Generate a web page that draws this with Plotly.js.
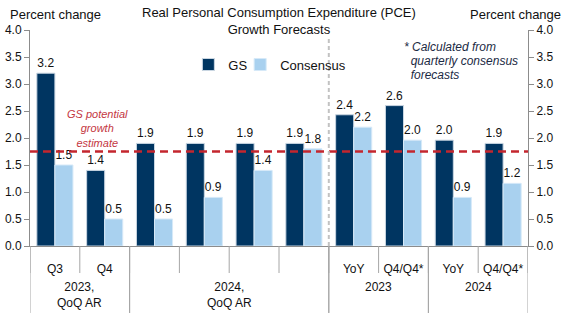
<!DOCTYPE html>
<html>
<head>
<meta charset="utf-8">
<script src="https://cdn.plot.ly/plotly-3.0.1.min.js"></script>
<style>html,body{margin:0;padding:0;background:#fff;}#chart{width:569px;height:327px;}</style>
</head>
<body>
<div id="chart"></div>
<script>
// ---- data ----
var categoryIds = ["2023Q3","2023Q4","2024Q1","2024Q2","2024Q3","2024Q4","2023YoY","2023Q4Q4","2024YoY","2024Q4Q4"];
var tickLabels = ["Q3","Q4","","","","","YoY","Q4/Q4*","YoY","Q4/Q4*"];
var gsValues = [3.2, 1.4, 1.9, 1.9, 1.9, 1.9, 2.43, 2.6, 1.96, 1.9];
var consensusValues = [1.5, 0.5, 0.5, 0.9, 1.4, 1.8, 2.2, 1.96, 0.9, 1.16];
var groupLabels = ["2023,<br>QoQ AR", "2024,<br>QoQ AR", "2023", "2024"];
var groupStarts = [0, 2, 6, 8];
var groupEnds = [1, 5, 7, 9];
var potentialGrowth = 1.75;
var yTicks = [0, 0.5, 1, 1.5, 2, 2.5, 3, 3.5, 4];
var noteLines = ["* Calculated from", "  quarterly consensus", "  forecasts"];

var FONT = "Liberation Sans, Arial, sans-serif";
var navy = "#003561";
var light = "#a9d1ef";
var axisGray = "#8c8c8c";

var traces = [
  {type: "bar", name: "GS", x: categoryIds, y: gsValues, legend: "legend",
   marker: {color: navy, line: {color: "#c9d6e2", width: 1}},
   texttemplate: "%{y:.1f}", textposition: "outside", cliponaxis: false,
   textfont: {family: FONT, size: 12, color: "#111"}, hoverinfo: "skip"},
  {type: "bar", name: "Consensus", x: categoryIds, y: consensusValues, legend: "legend2",
   marker: {color: light, line: {color: "#d6e9f8", width: 1}},
   texttemplate: "%{y:.1f}", textposition: "outside", cliponaxis: false,
   textfont: {family: FONT, size: 12, color: "#111"}, hoverinfo: "skip"}
];

var shapes = [];
for (var i = 0; i <= categoryIds.length; i++) {
  shapes.push({type: "line", xref: "x", yref: "paper", x0: i - 0.5, x1: i - 0.5,
    y0: 0, y1: -0.125, line: {color: "#a6a6a6", width: 1}});
}
for (var g = 0; g < groupStarts.length; g++) {
  [groupStarts[g] - 0.5, groupEnds[g] + 0.5].forEach(function(b){
    shapes.push({type: "line", xref: "x", yref: "paper", x0: b, x1: b,
      y0: 0, y1: -0.31, line: {color: "#a6a6a6", width: 1}});
  });
}
shapes.push({type: "line", xref: "paper", yref: "y", x0: 0, x1: 1,
  y0: potentialGrowth, y1: potentialGrowth, line: {color: "#c4262e", width: 2.5, dash: "8px,5px"}});
shapes.push({type: "line", xref: "x", yref: "paper", x0: groupStarts[2] - 0.5, x1: groupStarts[2] - 0.5,
  y0: 0, y1: 0.96, line: {color: "#c2c2c2", width: 2, dash: "4px,3px"}});

var annotations = [];
for (var g = 0; g < groupLabels.length; g++) {
  annotations.push({xref: "x", yref: "paper", x: (groupStarts[g] + groupEnds[g]) / 2, y: -0.147,
    yanchor: "top", text: groupLabels[g], showarrow: false,
    font: {family: FONT, size: 12, color: "#111"}});
}
annotations.push({xref: "paper", yref: "paper", x: -0.045, y: 1.074, xanchor: "left", yanchor: "middle",
  text: "Percent change", showarrow: false, font: {family: FONT, size: 13, color: "#111"}});
annotations.push({xref: "paper", yref: "paper", x: 1.07, y: 1.074, xanchor: "right", yanchor: "middle",
  text: "Percent change", showarrow: false, font: {family: FONT, size: 13, color: "#111"}});
annotations.push({xref: "paper", yref: "paper", x: 0.5, y: 1.042, xanchor: "center", yanchor: "middle",
  text: "Real Personal Consumption Expenditure (PCE)<br>Growth Forecasts", showarrow: false,
  font: {family: FONT, size: 13, color: "#111"}});
annotations.push({xref: "x", yref: "paper", x: 0.85, y: 0.543, xanchor: "center", yanchor: "middle",
  text: "<i>GS potential<br>growth<br>estimate</i>", showarrow: false,
  font: {family: FONT, size: 11, color: "#c4363f"}});
for (var k = 0; k < noteLines.length; k++) {
  annotations.push({xref: "paper", yref: "paper", x: 0.747, y: (246 - (47 + 14 * k)) / 216,
    xanchor: "left", yanchor: "middle",
    text: "<i>" + noteLines[k].replace(/ /g, "&nbsp;") + "</i>", showarrow: false,
    font: {family: FONT, size: 12, color: "#1b2a44"}});
}

var legendBase = {orientation: "h", yanchor: "middle", y: 0.84, xanchor: "left",
  font: {family: FONT, size: 13, color: "#111"}, bgcolor: "rgba(0,0,0,0)", itemwidth: 30};

var layout = {
  width: 569, height: 327,
  margin: {l: 30, r: 41, t: 30, b: 81, pad: 0},
  paper_bgcolor: "#fff", plot_bgcolor: "#fff",
  barmode: "group", bargap: 0.275, bargroupgap: 0,
  showlegend: true,
  legend: Object.assign({}, legendBase, {x: 0.318}),
  legend2: Object.assign({}, legendBase, {x: 0.422}),
  font: {family: FONT, size: 12, color: "#111"},
  xaxis: {type: "category", categoryorder: "array", categoryarray: categoryIds,
    tickvals: categoryIds, ticktext: tickLabels, ticks: "", showgrid: false,
    showline: true, linecolor: axisGray, linewidth: 1, zeroline: false,
    tickfont: {family: FONT, size: 12, color: "#111"}, ticklabelstandoff: 12,
    range: [-0.5, categoryIds.length - 0.5], fixedrange: true},
  yaxis: {range: [0, 4], tickvals: yTicks, tickformat: ".1f", ticks: "outside", ticklen: 5,
    tickcolor: axisGray, showline: true, linecolor: axisGray, linewidth: 1, showgrid: false,
    zeroline: false, tickfont: {family: FONT, size: 12, color: "#111"}, fixedrange: true},
  yaxis2: {range: [0, 4], tickvals: yTicks, tickformat: ".1f", ticks: "outside", ticklen: 5,
    tickcolor: axisGray, showline: true, linecolor: axisGray, linewidth: 1, showgrid: false,
    zeroline: false, overlaying: "y", side: "right", anchor: "x",
    tickfont: {family: FONT, size: 12, color: "#111"}, fixedrange: true},
  shapes: shapes,
  annotations: annotations
};

traces.push({type: "scatter", x: categoryIds, y: categoryIds.map(function(){return null;}),
  yaxis: "y2", showlegend: false, hoverinfo: "skip", mode: "markers"});

Plotly.newPlot("chart", traces, layout, {staticPlot: true, displayModeBar: false});
</script>
</body>
</html>
